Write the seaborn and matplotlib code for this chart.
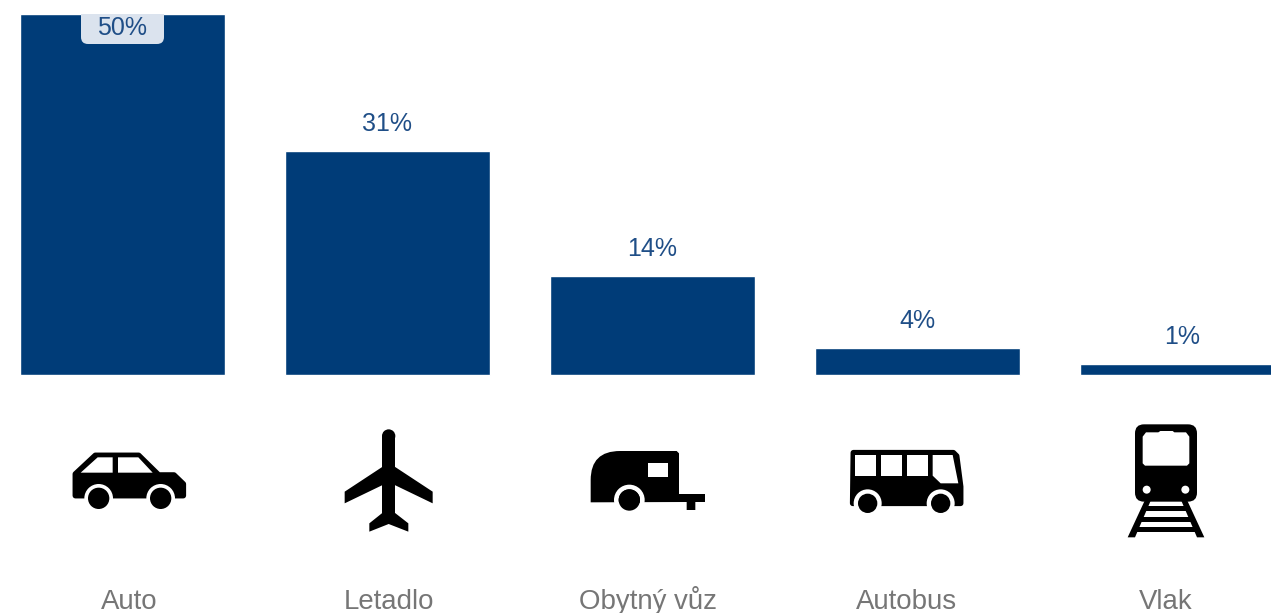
import matplotlib
matplotlib.use("Agg")
import matplotlib.pyplot as plt
import pandas as pd
import seaborn as sns
from matplotlib.patches import Circle, FancyBboxPatch, PathPatch, Polygon, Rectangle
from matplotlib.path import Path

categories = ["Auto", "Letadlo", "Obytný vůz", "Autobus", "Vlak"]
values = [50.3, 31.1, 13.8, 3.7, 1.5]
value_labels = ["50%", "31%", "14%", "4%", "1%"]

BLUE = "#003c78"
LABEL_BLUE = "#1f4e87"
GREY = "#767676"
BOX = "#dbe3ee"

W, H = 1271, 613
PITCH = 265
BASE_Y = 374.5
PX_PER_PCT = 360 / 50.2

sns.set_theme(style="white")
plt.rcParams["font.family"] = ["Liberation Sans", "DejaVu Sans"]

fig = plt.figure(figsize=(W / 100, H / 100), dpi=100)

# bars, axes covers the whole figure so one unit is a fixed number of pixels
ax = fig.add_axes([0, 0, 1, 1])
df = pd.DataFrame({"category": categories, "value": values})
sns.barplot(data=df, x="category", y="value", color=BLUE, saturation=1,
            width=205 / PITCH, ax=ax)
ax.set_xlim(-122.3 / PITCH, (W - 122.3) / PITCH)
ax.set_ylim(-(H - BASE_Y) / PX_PER_PCT, BASE_Y / PX_PER_PCT)
ax.axis("off")

ax.bar_label(ax.containers[0], labels=[""] + value_labels[1:], padding=10.8,
             fontsize=18, color=LABEL_BLUE)

# overlay in pixel coordinates for icons and the bottom labels
ov = fig.add_axes([0, 0, 1, 1])
ov.set_xlim(0, W)
ov.set_ylim(H, 0)
ov.axis("off")
ov.patch.set_alpha(0)

box = FancyBboxPatch((81, -10), 83, 54, boxstyle="round,pad=0,rounding_size=7",
                     facecolor=BOX, edgecolor="none")
ov.add_patch(box)
box.set_clip_path(Rectangle((81, 14), 83, 30, transform=ov.transData))
ov.text(122, 35, value_labels[0], ha="center", va="baseline", fontsize=18,
        color=LABEL_BLUE)

label_x = [129.5, 388.5, 648, 906.5, 1165.5]
for name, x in zip(categories, label_x):
    ov.text(x, 609, name, ha="center", va="baseline", fontsize=19.9, color=GREY)


def to_px(points, origin):
    return [(origin[0] + x / 3, origin[1] + y / 3) for x, y in points]


def poly(points, origin, color="black", lw=0.0):
    ov.add_patch(Polygon(to_px(points, origin), closed=True, facecolor=color,
                         edgecolor=color, lw=lw, joinstyle="round"))


def circle(x, y, r, origin, color="black"):
    ov.add_patch(Circle(to_px([(x, y)], origin)[0], r / 3, facecolor=color,
                        edgecolor="none"))


def wheel(x, y, origin, r=32, ring=43):
    circle(x, y, ring, origin, "white")
    circle(x, y, r, origin)


# car
org = (50, 420)
poly([(76, 162), (136, 106), (266, 106), (326, 165), (372, 165), (400, 192),
      (400, 227), (76, 227)], org, lw=4)
poly([(92, 158), (143, 112), (188, 112), (188, 158)], org, "white")
poly([(204, 112), (265, 112), (308, 158), (204, 158)], org, "white")
wheel(146, 235, org)
wheel(332, 235, org)

# plane
ov.add_patch(Rectangle(to_px([(996, 48)], org)[0], 40 / 3, 260 / 3, facecolor="black",
                       edgecolor="none"))
circle(1016, 48, 20, org)
poly([(998, 140), (884, 215), (884, 250), (998, 195)], org)
poly([(1034, 140), (1148, 215), (1148, 250), (1034, 195)], org)
poly([(998, 278), (958, 310), (958, 335), (1016, 312), (1075, 335), (1075, 310),
      (1034, 278)], org)

# caravan
org = (570, 420)
pts = to_px([(62, 247), (62, 180), (62, 93), (150, 93), (320, 93), (327, 100),
             (327, 222), (405, 222), (405, 246), (376, 246), (376, 270), (350, 270),
             (350, 246), (62, 247)], org)
codes = [Path.MOVETO, Path.LINETO, Path.CURVE3, Path.CURVE3] + [Path.LINETO] * 10
ov.add_patch(PathPatch(Path(pts, codes), facecolor="black", edgecolor="none"))
ov.add_patch(Rectangle(to_px([(233, 130)], org)[0], 60 / 3, 42 / 3, facecolor="white",
                       edgecolor="none"))
wheel(178, 240, org, r=32, ring=46)
ov.add_patch(Rectangle(to_px([(120, 248)], org)[0], 120 / 3, 30 / 3, facecolor="white",
                       edgecolor="none"))
circle(178, 240, 32, org)

# bus
poly([(850, 98), (1150, 98), (1160, 108), (1172, 200), (1172, 250), (848, 250)], org, lw=4)
for left in [855, 933, 1010]:
    ov.add_patch(Rectangle(to_px([(left, 105)], org)[0], 63 / 3, 62 / 3,
                           facecolor="white", edgecolor="none"))
poly([(1088, 105), (1148, 105), (1165, 190), (1112, 190), (1088, 167)], org, "white")
wheel(893, 250, org, r=29, ring=42)
wheel(1112, 250, org, r=29, ring=42)

# train
org = (1071, 320)
ov.add_patch(FancyBboxPatch(to_px([(192, 313)], org)[0], 186 / 3, 232 / 3,
                            boxstyle="round,pad=0,rounding_size=9",
                            facecolor="black", edgecolor="none"))
poly([(215, 350), (225, 337), (262, 337), (268, 333), (305, 333), (310, 337), (345, 337),
      (355, 350), (355, 430), (348, 437), (222, 437), (215, 430)], org, "white")
circle(227, 509, 12, org, "white")
circle(343, 509, 12, org, "white")
poly([(222, 540), (170, 652), (192, 652), (240, 540)], org)
poly([(348, 540), (400, 652), (378, 652), (330, 540)], org)
for top, left, right in [(558, 222, 348), (590, 208, 362), (621, 195, 375)]:
    ov.add_patch(Rectangle(to_px([(left, top)], org)[0], (right - left) / 3, 16 / 3,
                           facecolor="black", edgecolor="none"))

fig.savefig("out.png", dpi=100)
